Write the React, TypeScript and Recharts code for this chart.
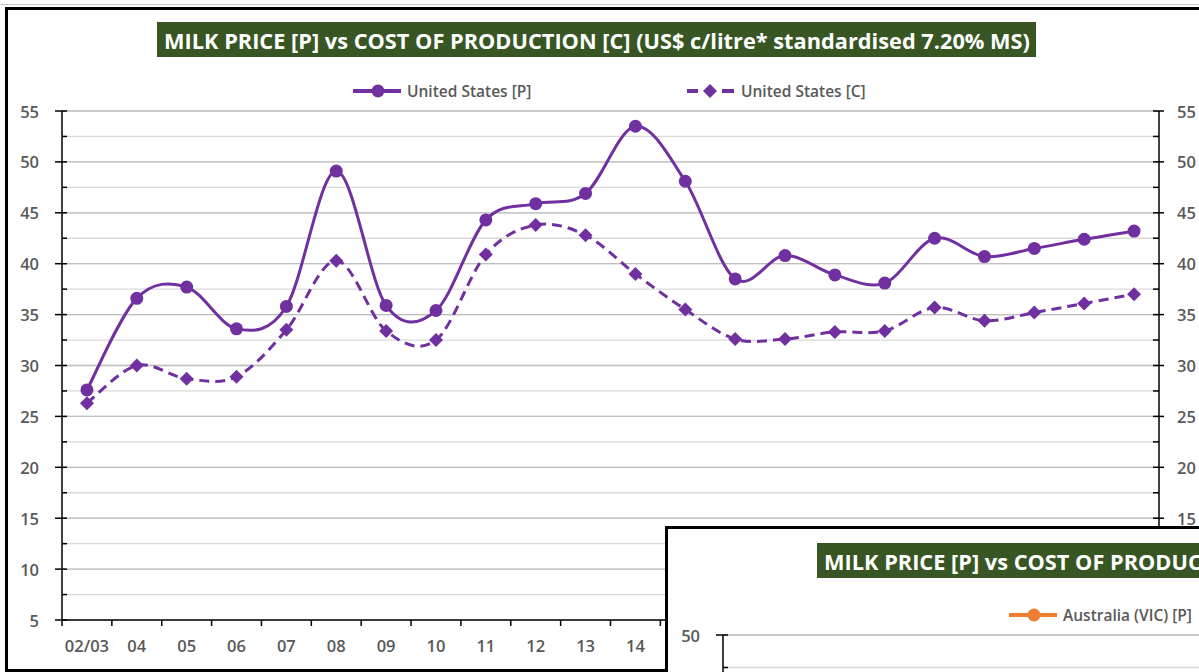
import React from 'react';
import { LineChart, Line, XAxis, YAxis, CartesianGrid, ReferenceLine } from 'recharts';

// season labels (02/03 .. 24)
const periods = ['02/03', '04', '05', '06', '07', '08', '09', '10', '11', '12', '13', '14', '15', '16', '17', '18', '19', '20', '21', '22', '23', '24'];
// United States milk price [P], US$ c/litre
const usPrice = [27.6, 36.6, 37.7, 33.6, 35.8, 49.1, 35.9, 35.4, 44.3, 45.9, 46.9, 53.5, 48.1, 38.5, 40.8, 38.9, 38.1, 42.5, 40.7, 41.5, 42.4, 43.2];
// United States cost of production [C]
const usCost = [26.3, 30.0, 28.7, 28.9, 33.5, 40.3, 33.4, 32.5, 40.9, 43.8, 42.8, 39.0, 35.5, 32.6, 32.6, 33.3, 33.4, 35.7, 34.4, 35.2, 36.1, 37.0];
const yTicks = [5, 7.5, 10, 12.5, 15, 17.5, 20, 22.5, 25, 27.5, 30, 32.5, 35, 37.5, 40, 42.5, 45, 47.5, 50, 52.5, 55];
const majorTicks = [10, 15, 20, 25, 30, 35, 40, 45, 50, 55];

// second (Australia) chart, only its top edge is visible
const ausTicks = [20, 22.5, 25, 27.5, 30, 32.5, 35, 37.5, 40, 42.5, 45, 47.5, 50];
const ausMajor = [25, 30, 35, 40, 45, 50];

const TITLE = 'MILK PRICE [P] vs COST OF PRODUCTION [C] (US$ c/litre* standardised 7.20% MS)';
const PURPLE = '#7030a0';
const ORANGE = '#ed7d31';
const GREEN = '#375623';
const LABEL = '#595959';
const FONT = '"Open Sans", "Noto Sans", sans-serif';

const mainRows = periods.map((p, i) => ({ period: p, usP: usPrice[i], usC: usCost[i] }));
const ausRows = periods.map((p) => ({ period: p }));

const BAND = 1097 / periods.length;
// the second chart's frame covers the main chart from here
const COVER_X = 665;
const COVER_Y = 526;

// Excel style smoothed line (cardinal bezier, 1/6 tangents)
function excelSmooth(context: any) {
  let px: number[] = [];
  let py: number[] = [];
  return {
    areaStart() {},
    areaEnd() {},
    lineStart() { px = []; py = []; },
    point(x: number, y: number) { px.push(+x); py.push(+y); },
    lineEnd() {
      const n = px.length;
      if (!n) return;
      context.moveTo(px[0], py[0]);
      for (let i = 0; i < n - 1; i++) {
        const a = Math.max(i - 1, 0);
        const d = Math.min(i + 2, n - 1);
        context.bezierCurveTo(
          px[i] + (px[i + 1] - px[a]) / 6, py[i] + (py[i + 1] - py[a]) / 6,
          px[i + 1] - (px[d] - px[i]) / 6, py[i + 1] - (py[d] - py[i]) / 6,
          px[i + 1], py[i + 1],
        );
      }
    },
  };
}

const labelStyle = { fill: LABEL, fontSize: 16.5, fontWeight: 600, fontFamily: FONT };

const XTick = ({ x, y, payload }: any) => (
  <g>
    <line x1={x - BAND / 2} x2={x - BAND / 2} y1={y} y2={y + 6} stroke="#000" strokeWidth={1.5} />
    {x + 10 < COVER_X && (
      <text x={x} y={y + 25} textAnchor="middle" dominantBaseline="central" style={labelStyle}>{payload.value}</text>
    )}
  </g>
);

const LeftTick = ({ x, y, payload, maxY }: any) => {
  const major = payload.value % 5 === 0;
  return (
    <g>
      <line x1={major ? x - 7 : x} x2={x + 5} y1={y} y2={y} stroke="#000" strokeWidth={1.5} />
      {major && (maxY == null || y < maxY) && (
        <text x={x - 23} y={y} textAnchor="end" dominantBaseline="central" style={labelStyle}>{payload.value}</text>
      )}
    </g>
  );
};

const RightTick = ({ x, y, payload }: any) => {
  const major = payload.value % 5 === 0;
  return (
    <g>
      <line x1={x - 6} x2={major ? x + 5 : x} y1={y} y2={y} stroke="#000" strokeWidth={1.5} />
      {major && y < COVER_Y && (
        <text x={x + 18} y={y} textAnchor="start" dominantBaseline="central" style={labelStyle}>{payload.value}</text>
      )}
    </g>
  );
};

const PriceDot = (p: any) => <circle key={`p${p.index}`} cx={p.cx} cy={p.cy} r={6.5} fill={PURPLE} />;
const CostDot = (p: any) => (
  <polygon key={`c${p.index}`} points={`${p.cx},${p.cy - 7} ${p.cx + 7},${p.cy} ${p.cx},${p.cy + 7} ${p.cx - 7},${p.cy}`} fill={PURPLE} />
);

function Title({ x, y }: { x: number; y: number }) {
  return (
    <svg style={{ position: 'absolute', left: 0, top: 0 }} width={1199} height={672}>
      <rect x={x} y={y} width={879} height={35} fill={GREEN} />
      <text x={x + 7} y={y + 26.5} fill="#fff" fontFamily={FONT} fontWeight={700} fontSize={20.5}
        textLength={866} lengthAdjust="spacingAndGlyphs">{TITLE}</text>
    </svg>
  );
}

function LegendItem({ x, y, color, name, dashed, diamond }: any) {
  return (
    <g>
      {dashed ? (
        <>
          <line x1={x} x2={x + 11} y1={y} y2={y} stroke={color} strokeWidth={4} />
          <line x1={x + 35} x2={x + 47} y1={y} y2={y} stroke={color} strokeWidth={4} />
        </>
      ) : (
        <line x1={x} x2={x + 48} y1={y} y2={y} stroke={color} strokeWidth={4} />
      )}
      {diamond
        ? <polygon points={`${x + 23},${y - 7} ${x + 30},${y} ${x + 23},${y + 7} ${x + 16},${y}`} fill={color} />
        : <circle cx={x + 25} cy={y} r={6.5} fill={color} />}
      <text x={x + 54} y={y} dominantBaseline="central" fill={LABEL} fontFamily={FONT} fontWeight={600} fontSize={15.5}>{name}</text>
    </g>
  );
}

export default function App() {
  return (
    <div style={{ position: 'fixed', left: 0, top: 0, width: 1199, height: 672, overflow: 'hidden', background: '#fff' }}>
      <div style={{ position: 'absolute', left: 0, top: 4, width: 1199, height: 1, background: '#c8c8c8' }} />
      <div style={{ position: 'absolute', left: 5, top: 7, width: 1300, height: 665, border: '3px solid #000', boxSizing: 'border-box' }} />

      <div style={{ position: 'absolute', left: 0, top: 0 }}>
        <LineChart width={1199} height={672} data={mainRows} margin={{ top: 111, right: 0, bottom: 22, left: 0 }}>
          <CartesianGrid vertical={false} yAxisId="left" stroke="#d9d9d9" strokeWidth={1.3} />
          {majorTicks.map((v) => (
            <ReferenceLine key={v} yAxisId="left" y={v} stroke="#bfbfbf" strokeWidth={1.3} />
          ))}
          <XAxis dataKey="period" scale="band" interval={0} height={30} tickSize={0} tickMargin={0} tickLine={false}
            axisLine={{ stroke: '#000', strokeWidth: 1.5 }} tick={<XTick />} />
          <YAxis yAxisId="left" domain={[5, 55]} ticks={yTicks} interval={0} width={62} tickSize={0} tickMargin={0}
            allowDataOverflow tickLine={false} axisLine={{ stroke: '#000', strokeWidth: 1.5 }} tick={<LeftTick />} />
          <YAxis yAxisId="right" orientation="right" domain={[5, 55]} ticks={yTicks} interval={0} width={40} tickSize={0}
            allowDataOverflow tickMargin={0} tickLine={false} axisLine={{ stroke: '#000', strokeWidth: 1.5 }} tick={<RightTick />} />
          <Line yAxisId="left" dataKey="usP" name="United States [P]" type={excelSmooth as any} stroke={PURPLE} strokeWidth={3}
            dot={PriceDot} activeDot={false} isAnimationActive={false} />
          <Line yAxisId="left" dataKey="usC" name="United States [C]" type={excelSmooth as any} stroke={PURPLE} strokeWidth={3}
            strokeDasharray="10 6" dot={CostDot} activeDot={false} isAnimationActive={false} />
        </LineChart>
      </div>

      <Title x={157} y={22} />
      <svg style={{ position: 'absolute', left: 0, top: 0 }} width={1199} height={672}>
        <LegendItem x={353} y={91} color={PURPLE} name="United States [P]" />
        <LegendItem x={687} y={91} color={PURPLE} name="United States [C]" dashed diamond />
      </svg>

      {/* second chart overlapping in the corner */}
      <div style={{ position: 'absolute', left: COVER_X, top: COVER_Y, width: 700, height: 300, border: '3px solid #000', background: '#fff', boxSizing: 'border-box' }} />
      <div style={{ position: 'absolute', left: 668, top: 529 }}>
        <LineChart width={600} height={520} data={ausRows} margin={{ top: 106, right: 20, bottom: 24, left: 0 }}>
          <CartesianGrid vertical={false} yAxisId="aus" stroke="#d9d9d9" strokeWidth={1.3} />
          {ausMajor.map((v) => (
            <ReferenceLine key={v} yAxisId="aus" y={v} stroke="#bfbfbf" strokeWidth={1.3} />
          ))}
          <XAxis dataKey="period" hide />
          <YAxis yAxisId="aus" domain={[20, 50]} ticks={ausTicks} interval={0} width={55} tickSize={0} tickMargin={0}
            allowDataOverflow tickLine={false} axisLine={{ stroke: '#000', strokeWidth: 1.5 }} tick={<LeftTick maxY={135} />} />
          <Line yAxisId="aus" dataKey="ausP" name="Australia (VIC) [P]" stroke={ORANGE} strokeWidth={3} dot={false} isAnimationActive={false} />
        </LineChart>
      </div>
      <Title x={817} y={543} />
      <svg style={{ position: 'absolute', left: 0, top: 0 }} width={1199} height={672}>
        <LegendItem x={1009} y={615} color={ORANGE} name="Australia (VIC) [P]" />
      </svg>
    </div>
  );
}
